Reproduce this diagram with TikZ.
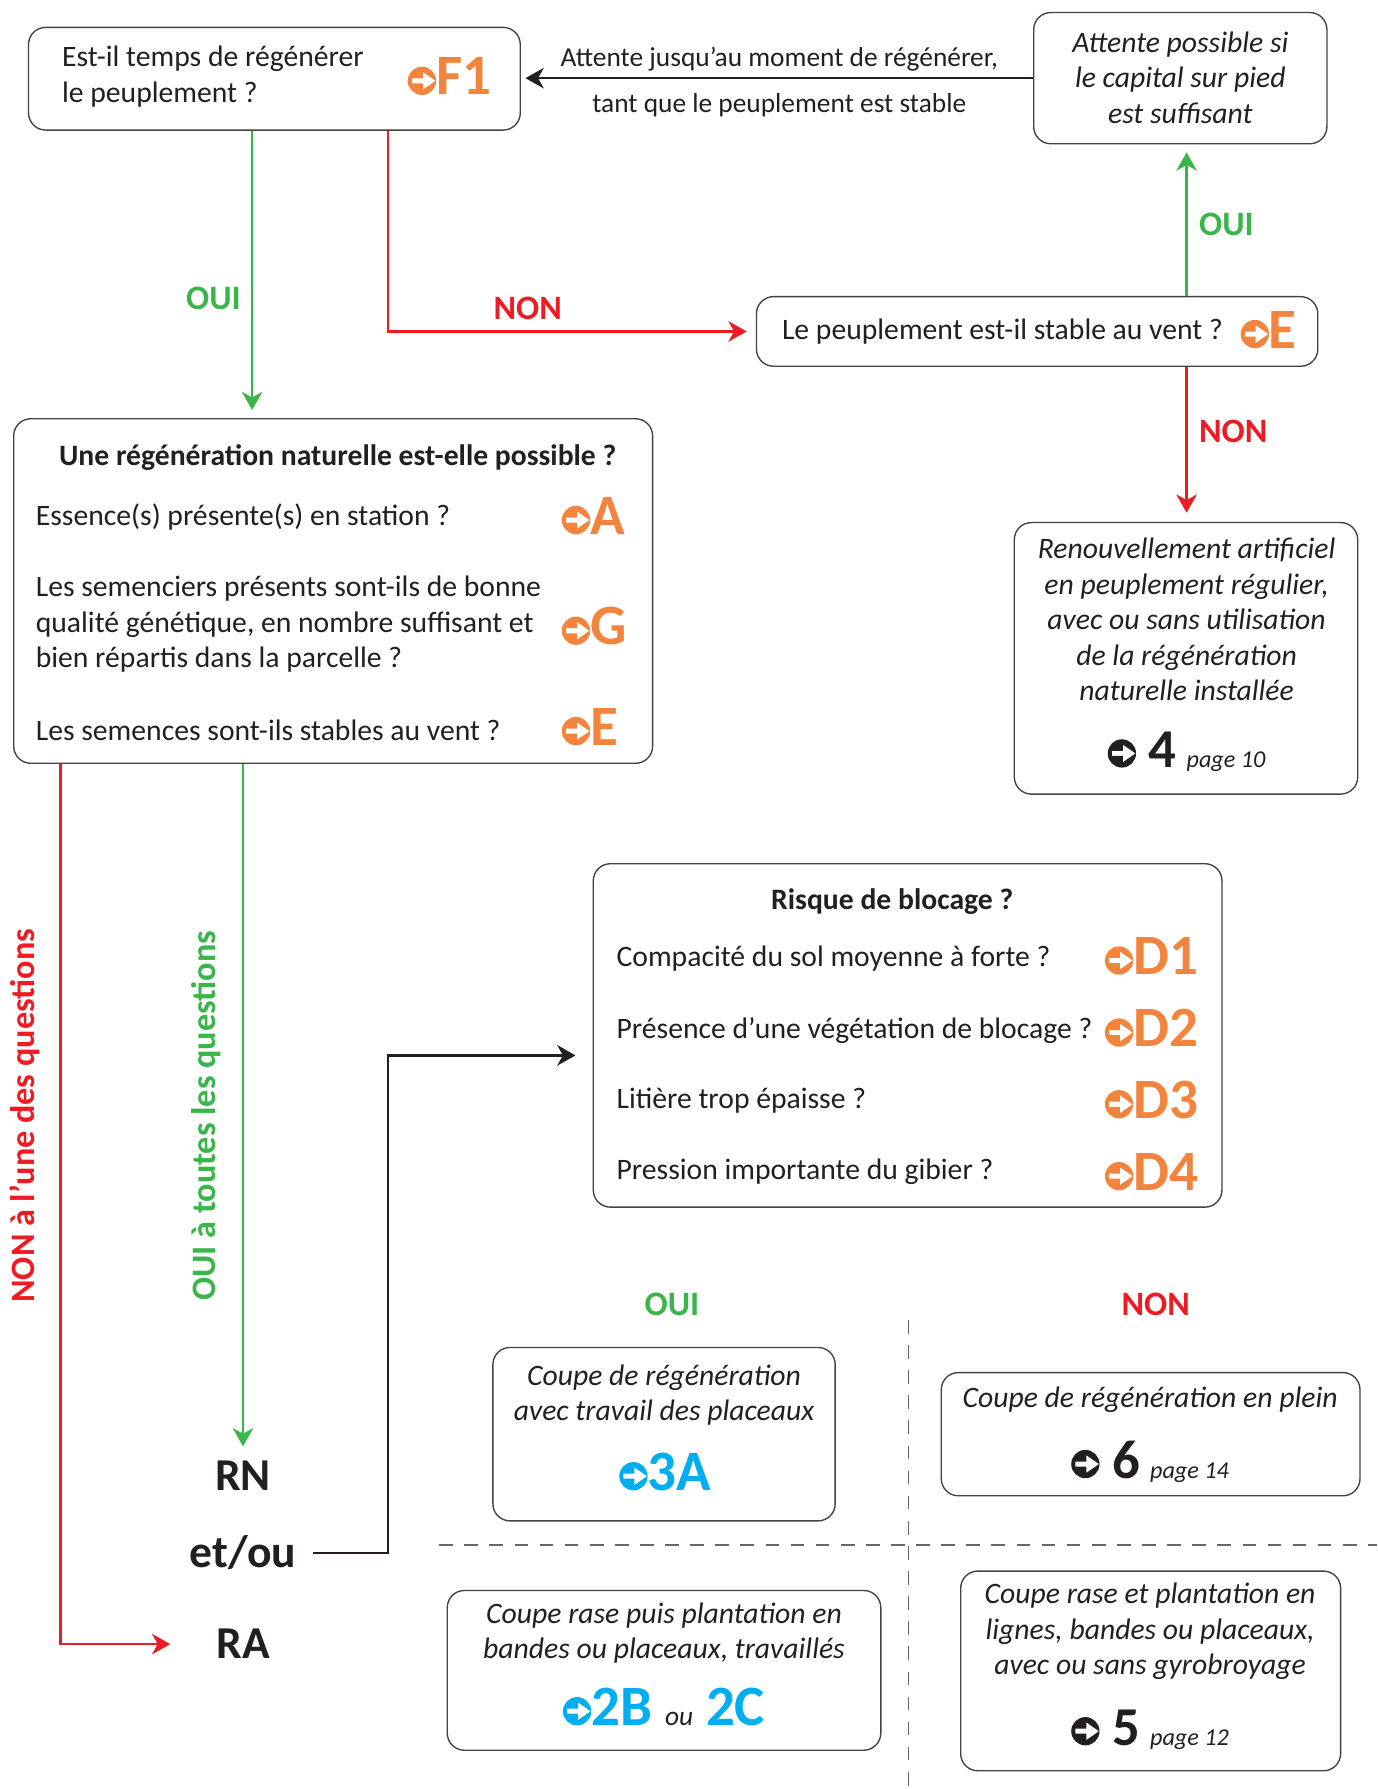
\documentclass[tikz,border=0pt]{standalone}
\usepackage{fontspec}
\setmainfont{Carlito}
\usetikzlibrary{arrows.meta}

\definecolor{orangeref}{RGB}{243,132,62}
\definecolor{vertref}{RGB}{57,181,74}
\definecolor{rougeref}{RGB}{237,28,36}
\definecolor{bleuref}{RGB}{0,174,239}
\definecolor{noirref}{RGB}{35,31,32}

\newcommand{\txt}{\fontsize{13}{15.5}\selectfont}
% petit disque avec fleche blanche
\newcommand{\fleche}{\tikz[baseline=0pt,x=1pt,y=1pt]\fill[fill=., even odd rule] (6.2,6.2) circle (6.2)
  (1.8,7.3) -- (6.6,7.3) -- (6.6,10.1) -- (12.2,6.2) -- (6.6,2.3) -- (6.6,5.1) -- (1.8,5.1) -- cycle;}
\newcommand{\renvoinoir}[2]{\fleche\hspace{5.5pt}{\fontsize{24}{24}\selectfont\bfseries #1}\hspace{4.5pt}{\fontsize{10.6}{10.6}\selectfont\itshape #2}}

\begin{document}
\begin{tikzpicture}[x=0.5pt,y=-0.5pt,
  boite/.style={draw=noirref!85, line width=0.6pt, rounded corners=7.5pt, inner sep=0pt},
  texte/.style={font=\txt, text=noirref, inner sep=0pt},
  ital/.style={font=\txt\itshape, text=noirref, inner sep=0pt, align=center},
  renvoi/.style={font=\fontsize{25}{25}\selectfont\bfseries, text=orangeref, inner sep=0pt},
  reponse/.style={font=\fontsize{15}{15}\selectfont\bfseries, inner sep=0pt},
  issue/.style={font=\fontsize{20}{20}\selectfont\bfseries, text=noirref, inner sep=0pt},
  tip/.style={-{Stealth[length=8pt,width=9pt,inset=2.5pt]}},
  fleche verte/.style={tip, vertref, line width=1pt},
  fleche rouge/.style={tip, rougeref, line width=1pt},
  fleche noire/.style={tip, noirref, line width=1pt},
  tirets/.style={gray!80!black, line width=0.6pt, dash pattern=on 6pt off 5pt}
]
\useasboundingbox (0,0) rectangle (1207,1568);

% haut : temps de regenerer ?
\node[boite, minimum width=215.5pt, minimum height=45pt] (f1) at (240.5,69) {};
\node[texte, anchor=west, align=left] (t-f1) at (54,67) {Est-il temps de régénérer\\le peuplement ?};
\node[renvoi, anchor=west] (c-f1) at (357,67) {\fleche F1};

\node[boite, minimum width=128.5pt, minimum height=57.5pt] (attente) at (1034.5,68.5) {};
\node[ital] (t-attente) at (1034.5,68) {Attente possible si\\le capital sur pied\\est suffisant};
\node[texte, font=\fontsize{12}{15}\selectfont] (l-attente1) at (683,52) {Attente jusqu’au moment de régénérer,};
\node[texte, font=\fontsize{12}{15}\selectfont] (l-attente2) at (683,92) {tant que le peuplement est stable};

\node[boite, minimum width=246pt, minimum height=30.5pt] (stable) at (909,290.5) {};
\node[texte, anchor=west] (t-stable) at (685,291) {Le peuplement est-il stable au vent ?};
\node[renvoi, anchor=west] (c-stable) at (1087,289) {\fleche E};

\node[boite, minimum width=150.5pt, minimum height=119pt] (renouv) at (1039.5,577) {};
\node[ital] (t-renouv) at (1040,543) {Renouvellement artificiel\\en peuplement régulier,\\avec ou sans utilisation\\de la régénération\\naturelle installée};
\node[texte] (c-renouv) at (1040,659) {\renvoinoir{4}{page 10}};

% regeneration naturelle
\node[boite, minimum width=280pt, minimum height=151pt] (regen) at (292,518) {};
\node[texte, font=\txt\bfseries] (t-regen) at (296,401) {Une régénération naturelle est-elle possible ?};
\node[texte, anchor=west] (q-a) at (31,453) {Essence(s) présente(s) en station ?};
\node[texte, anchor=west, align=left] (q-g) at (31,547) {Les semenciers présents sont-ils de bonne\\qualité génétique, en nombre suffisant et\\bien répartis dans la parcelle ?};
\node[texte, anchor=west] (q-e) at (31,640) {Les semences sont-ils stables au vent ?};
\node[renvoi, anchor=west] (c-a) at (492,452) {\fleche A};
\node[renvoi, anchor=west] (c-g) at (492,549) {\fleche G};
\node[renvoi, anchor=west] (c-e) at (492,637) {\fleche E};

% risque de blocage
\node[boite, minimum width=275.5pt, minimum height=150.5pt] (risque) at (795.5,907.5) {};
\node[texte, font=\txt\bfseries] (t-risque) at (782,790) {Risque de blocage ?};
\node[texte, anchor=west] (q-d1) at (540,840) {Compacité du sol moyenne à forte ?};
\node[texte, anchor=west] (q-d2) at (540,903) {Présence d’une végétation de blocage ?};
\node[texte, anchor=west] (q-d3) at (540,965) {Litière trop épaisse ?};
\node[texte, anchor=west] (q-d4) at (540,1027) {Pression importante du gibier ?};
\node[renvoi, anchor=west] (c-d1) at (968,838) {\fleche D1};
\node[renvoi, anchor=west] (c-d2) at (968,901) {\fleche D2};
\node[renvoi, anchor=west] (c-d3) at (968,964) {\fleche D3};
\node[renvoi, anchor=west] (c-d4) at (968,1027) {\fleche D4};

% RN / RA
\node[issue] (rn) at (213,1293) {RN};
\node[issue] (etou) at (213,1361) {et/ou};
\node[issue] (ra) at (213,1441) {RA};
\node[reponse, rotate=90, text=rougeref] (l-nonq) at (22,978) {NON à l’une des questions};
\node[reponse, rotate=90, text=vertref] (l-ouiq) at (181,978) {OUI à toutes les questions};

% tableau final
\node[reponse, text=vertref] (l-oui3) at (589,1143) {OUI};
\node[reponse, text=rougeref] (l-non3) at (1013,1143) {NON};
\draw[tirets] (796,1157) -- (796,1568);
\draw[tirets] (385,1354) -- (1207,1354);

\node[boite, minimum width=150pt, minimum height=76pt] (b3a) at (582,1257) {};
\node[ital] (t-3a) at (582,1222.5) {Coupe de régénération\\avec travail des placeaux};
\node[renvoi, text=bleuref] (c-3a) at (583,1290) {\fleche 3A};

\node[boite, minimum width=183.5pt, minimum height=54pt] (b6) at (1008.5,1257) {};
\node[ital] (t-6) at (1008,1227) {Coupe de régénération en plein};
\node[texte] (c-6) at (1008,1281) {\renvoinoir{6}{page 14}};

\node[boite, minimum width=190pt, minimum height=70pt] (b2b) at (582,1464) {};
\node[ital] (t-2b) at (582,1431.5) {Coupe rase puis plantation en\\bandes ou placeaux, travaillés};
\node[renvoi, text=bleuref] (c-2b) at (582,1496) {\fleche 2B {\fontsize{12}{12}\selectfont\mdseries\itshape\color{noirref} ou} 2C};

\node[boite, minimum width=166.5pt, minimum height=87.5pt] (b5) at (1008.5,1464.5) {};
\node[ital] (t-5) at (1008,1430) {Coupe rase et plantation en\\lignes, bandes ou placeaux,\\avec ou sans gyrobroyage};
\node[texte] (c-5) at (1008,1516) {\renvoinoir{5}{page 12}};

% connecteurs
\coordinate (x-oui) at (221,0);
\coordinate (x-non) at (340,0);
\coordinate (x-vent) at (1040,0);
\coordinate (x-nonq) at (53,0);
\coordinate (x-coude) at (340,0);

\draw[fleche noire, shorten >=2pt] (attente.west) -- (attente.west -| f1.east);
\draw[fleche verte, shorten >=3.5pt] (f1.south -| x-oui) -- (regen.north -| x-oui)
  node[reponse, pos=0.585, left=4.5pt, text=vertref] (l-oui1) {OUI};
\draw[fleche rouge, shorten >=4pt] (f1.south -| x-non) |- (stable.west)
  node[reponse, pos=0.69, above=4.5pt, text=rougeref] (l-non1) {NON};
\draw[fleche verte, shorten >=3.5pt] (stable.north -| x-vent) -- (attente.south -| x-vent)
  node[reponse, pos=0.47, right=5pt, text=vertref] (l-oui2) {OUI};
\draw[fleche rouge, shorten >=4pt] (stable.south -| x-vent) -- (renouv.north -| x-vent)
  node[reponse, pos=0.416, right=5pt, text=rougeref] (l-non2) {NON};
\draw[fleche rouge, shorten >=20pt] (regen.south -| x-nonq) |- (ra.west);
\draw[fleche verte, shorten >=6pt] (regen.south -| rn) -- (rn.north);
\draw[fleche noire, shorten <=7pt, shorten >=7.5pt] (etou.east) -- (etou.east -| x-coude) |- ([yshift=-8.75pt]risque.west);
\end{tikzpicture}
\end{document}
